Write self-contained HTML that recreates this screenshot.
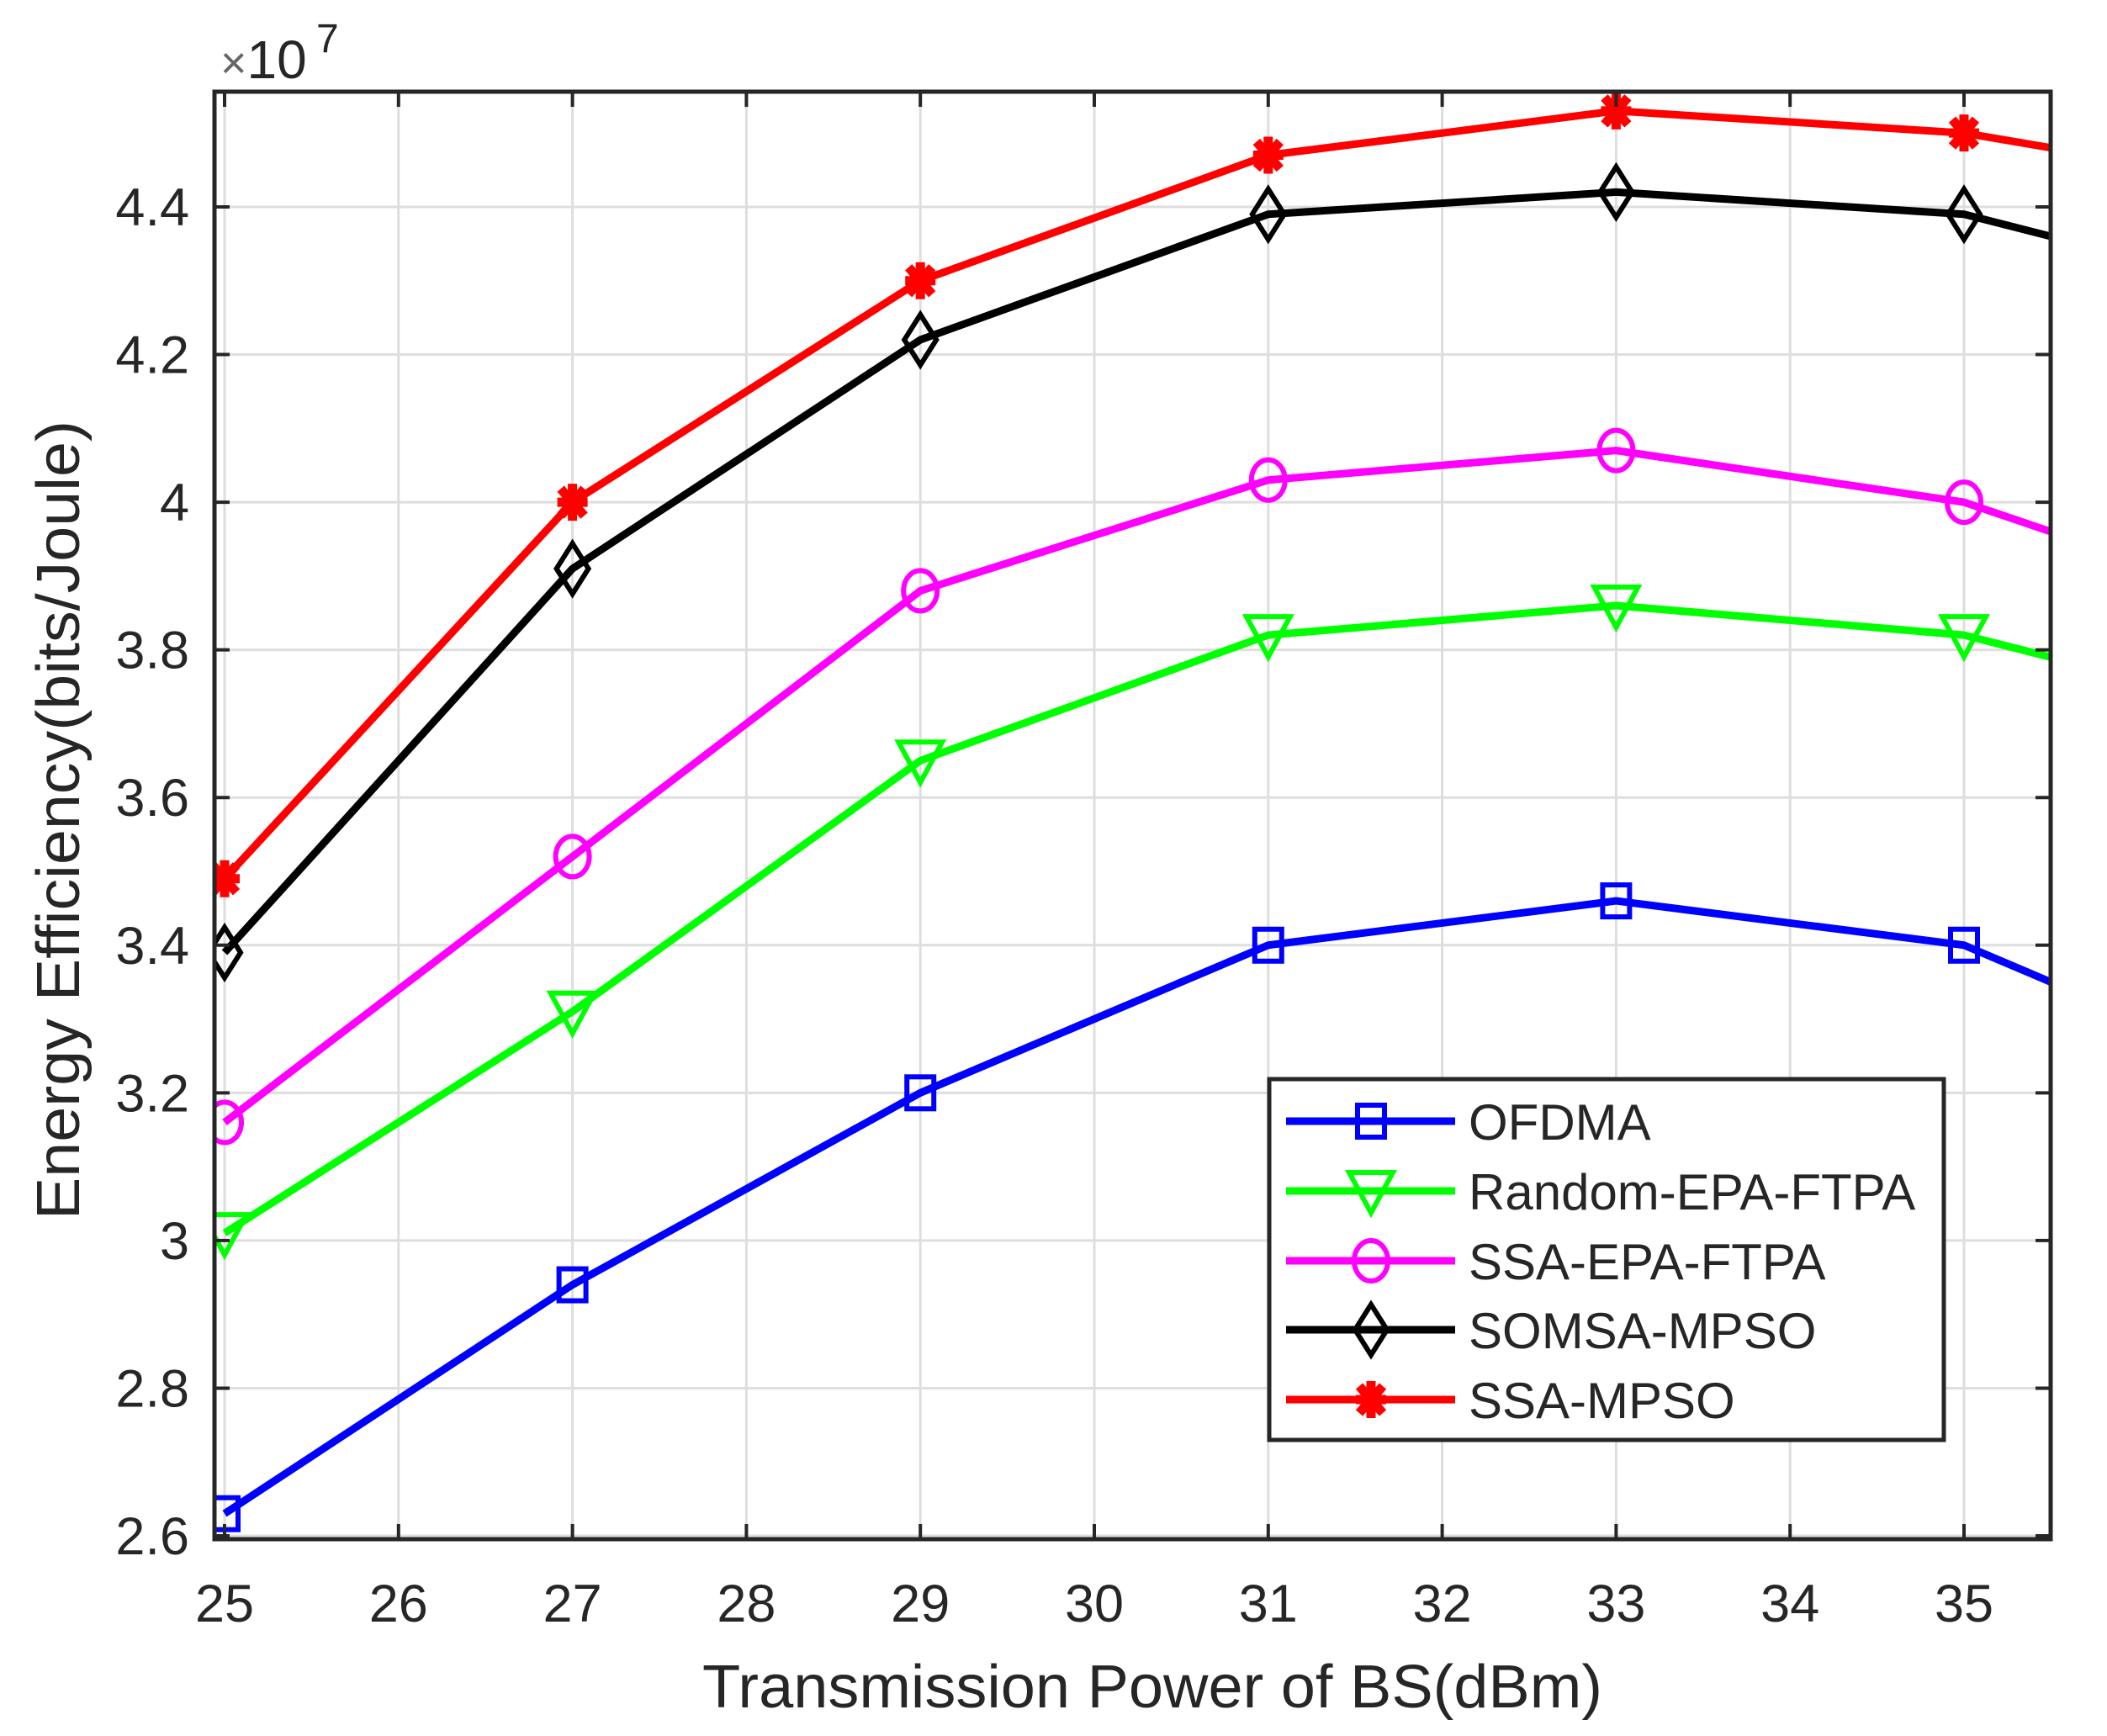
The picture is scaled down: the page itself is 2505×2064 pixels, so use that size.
<!DOCTYPE html>
<html><head><meta charset="utf-8">
<style>
html,body{margin:0;padding:0;background:#fff;}
svg{display:block;}
text{font-family:"Liberation Sans",Arial,sans-serif;fill:#262626;}
</style></head>
<body>
<svg id="chart" width="2505" height="2064" viewBox="0 0 2505 2064" xmlns="http://www.w3.org/2000/svg">
<defs><clipPath id="plotclip"><rect x="255" y="109" width="2183" height="1721"/></clipPath></defs>
<g id="grid"></g>
<g id="series" clip-path="url(#plotclip)"></g>
<g id="axes"></g>
<g id="legend"></g>
</svg>
<script>
const xCats = [25, 27, 29, 31, 33, 35, 37];
const ofdma = [2.63, 2.94, 3.20, 3.40, 3.46, 3.40, 3.20];
const randomEpa = [3.01, 3.31, 3.65, 3.82, 3.86, 3.82, 3.70];
const ssaEpa = [3.16, 3.52, 3.88, 4.03, 4.07, 4.00, 3.84];
const somsa = [3.39, 3.91, 4.22, 4.39, 4.42, 4.39, 4.27];
const ssaMpso = [3.49, 4.00, 4.30, 4.47, 4.53, 4.50, 4.42];
const xTicks = [25, 26, 27, 28, 29, 30, 31, 32, 33, 34, 35];
const yTicks = [2.6, 2.8, 3.0, 3.2, 3.4, 3.6, 3.8, 4.0, 4.2, 4.4];
const yTickLabels = ["2.6", "2.8", "3", "3.2", "3.4", "3.6", "3.8", "4", "4.2", "4.4"];
const seriesNames = ["OFDMA", "Random-EPA-FTPA", "SSA-EPA-FTPA", "SOMSA-MPSO", "SSA-MPSO"];

const NS = "http://www.w3.org/2000/svg";
const L = 255, R = 2438, T = 109, B = 1830;
function xs(v){ return 267 + (v - 25) * 206.8; }
function ys(v){ return 1826 - (v - 2.6) * 877.8; }
function mk(tag, attrs, parent){
  const e = document.createElementNS(NS, tag);
  for (const k in attrs) e.setAttribute(k, attrs[k]);
  parent.appendChild(e);
  return e;
}
const grid = document.getElementById("grid");
const axes = document.getElementById("axes");
const series = document.getElementById("series");
const legend = document.getElementById("legend");

xTicks.forEach(v => {
  const g = mk("line", {x1: xs(v), x2: xs(v), y1: T, y2: B, stroke: "#dedede", "stroke-width": 3}, grid);
  
  
  const t1 = mk("line", {x1: xs(v), x2: xs(v), y1: B, y2: B - 18, stroke: "#262626", "stroke-width": 4}, axes);
  
  
  const t2 = mk("line", {x1: xs(v), x2: xs(v), y1: T, y2: T + 18, stroke: "#262626", "stroke-width": 4}, axes);
  
  
  const lb = mk("text", {x: xs(v), y: 1928, "font-size": 63, "text-anchor": "middle"}, axes);
  lb.textContent = String(v);
  
  
});
yTicks.forEach((v, i) => {
  const g = mk("line", {x1: L, x2: R, y1: ys(v), y2: ys(v), stroke: "#dedede", "stroke-width": 3}, grid);
  
  
  const t1 = mk("line", {x1: L, x2: L + 18, y1: ys(v), y2: ys(v), stroke: "#262626", "stroke-width": 4}, axes);
  
  
  const t2 = mk("line", {x1: R, x2: R - 18, y1: ys(v), y2: ys(v), stroke: "#262626", "stroke-width": 4}, axes);
  
  
  const lb = mk("text", {x: 225, y: ys(v) + 22, "font-size": 63, "text-anchor": "end"}, axes);
  lb.textContent = yTickLabels[i];
  
  
});
const frame = mk("rect", {x: L, y: T, width: R - L, height: B - T, fill: "none", stroke: "#262626", "stroke-width": 5}, axes);



const xl = mk("text", {x: 1370, y: 2030, "font-size": 72, "text-anchor": "middle", textLength: 1070, lengthAdjust: "spacingAndGlyphs"}, axes);
xl.textContent = "Transmission Power of BS(dBm)";


const yl = mk("text", {x: 0, y: 0, "font-size": 72, "text-anchor": "middle", textLength: 950, lengthAdjust: "spacingAndGlyphs", transform: "translate(94,975) rotate(-90)"}, axes);
yl.textContent = "Energy Efficiency(bits/Joule)";


const ex = mk("text", {x: 262, y: 93, "font-size": 64}, axes);
ex.innerHTML = '<tspan font-size="54" fill="#666">×</tspan>10';


const ex7 = mk("text", {x: 376, y: 62, "font-size": 48}, axes);
ex7.textContent = "7";



function marker(type, cx, cy, color, parent){
  let e;
  const sw = 6;
  if (type === "square") e = mk("rect", {x: cx - 16, y: cy - 19, width: 32, height: 38, fill: "none", stroke: color, "stroke-width": sw}, parent);
  else if (type === "tri") e = mk("polygon", {points: `${cx-26},${cy-22} ${cx+26},${cy-22} ${cx},${cy+26}`, fill: "none", stroke: color, "stroke-width": sw}, parent);
  else if (type === "circle") e = mk("ellipse", {cx: cx, cy: cy, rx: 20, ry: 24, fill: "none", stroke: color, "stroke-width": sw}, parent);
  else if (type === "diamond") e = mk("polygon", {points: `${cx},${cy-30} ${cx+19},${cy} ${cx},${cy+30} ${cx-19},${cy}`, fill: "none", stroke: color, "stroke-width": sw}, parent);
  else e = mk("path", {d: `M${cx-18},${cy} L${cx+18},${cy} M${cx},${cy-22} L${cx},${cy+22} M${cx-14},${cy-16} L${cx+14},${cy+16} M${cx-14},${cy+16} L${cx+14},${cy-16}`, stroke: color, "stroke-width": 11, fill: "none"}, parent);
  return e;
}
const allSeries = [ofdma, randomEpa, ssaEpa, somsa, ssaMpso];
const colors = ["#0000ff", "#00ff00", "#ff00ff", "#000000", "#ff0000"];
const mtypes = ["square", "tri", "circle", "diamond", "star"];
const snames = ["ofdma", "random-epa-ftpa", "ssa-epa-ftpa", "somsa-mpso", "ssa-mpso"];
allSeries.forEach((vals, si) => {
  const g = mk("g", {}, series);
  
  
  const pts = vals.map((v, i) => xs(xCats[i]) + "," + ys(v)).join(" ");
  const pl = mk("polyline", {points: pts, fill: "none", stroke: colors[si], "stroke-width": 9, "stroke-linejoin": "round"}, g);
  
  
  vals.forEach((v, i) => {
    const m = marker(mtypes[si], xs(xCats[i]), ys(v), colors[si], g);
    
    
  });
});

const lbox = mk("rect", {x: 1509, y: 1283, width: 802, height: 429, fill: "#fff", stroke: "#262626", "stroke-width": 5}, legend);


const ly = [1333, 1416, 1499, 1581, 1664];
seriesNames.forEach((n, i) => {
  const g = mk("g", {}, legend);
  
  
  mk("line", {x1: 1529, x2: 1730, y1: ly[i], y2: ly[i], stroke: colors[i], "stroke-width": 9}, g);
  marker(mtypes[i], 1630, ly[i], colors[i], g);
  const t = mk("text", {x: 1746, y: ly[i] + 22, "font-size": 60}, g);
  t.textContent = n;
  
  
});
</script>
</body></html>
